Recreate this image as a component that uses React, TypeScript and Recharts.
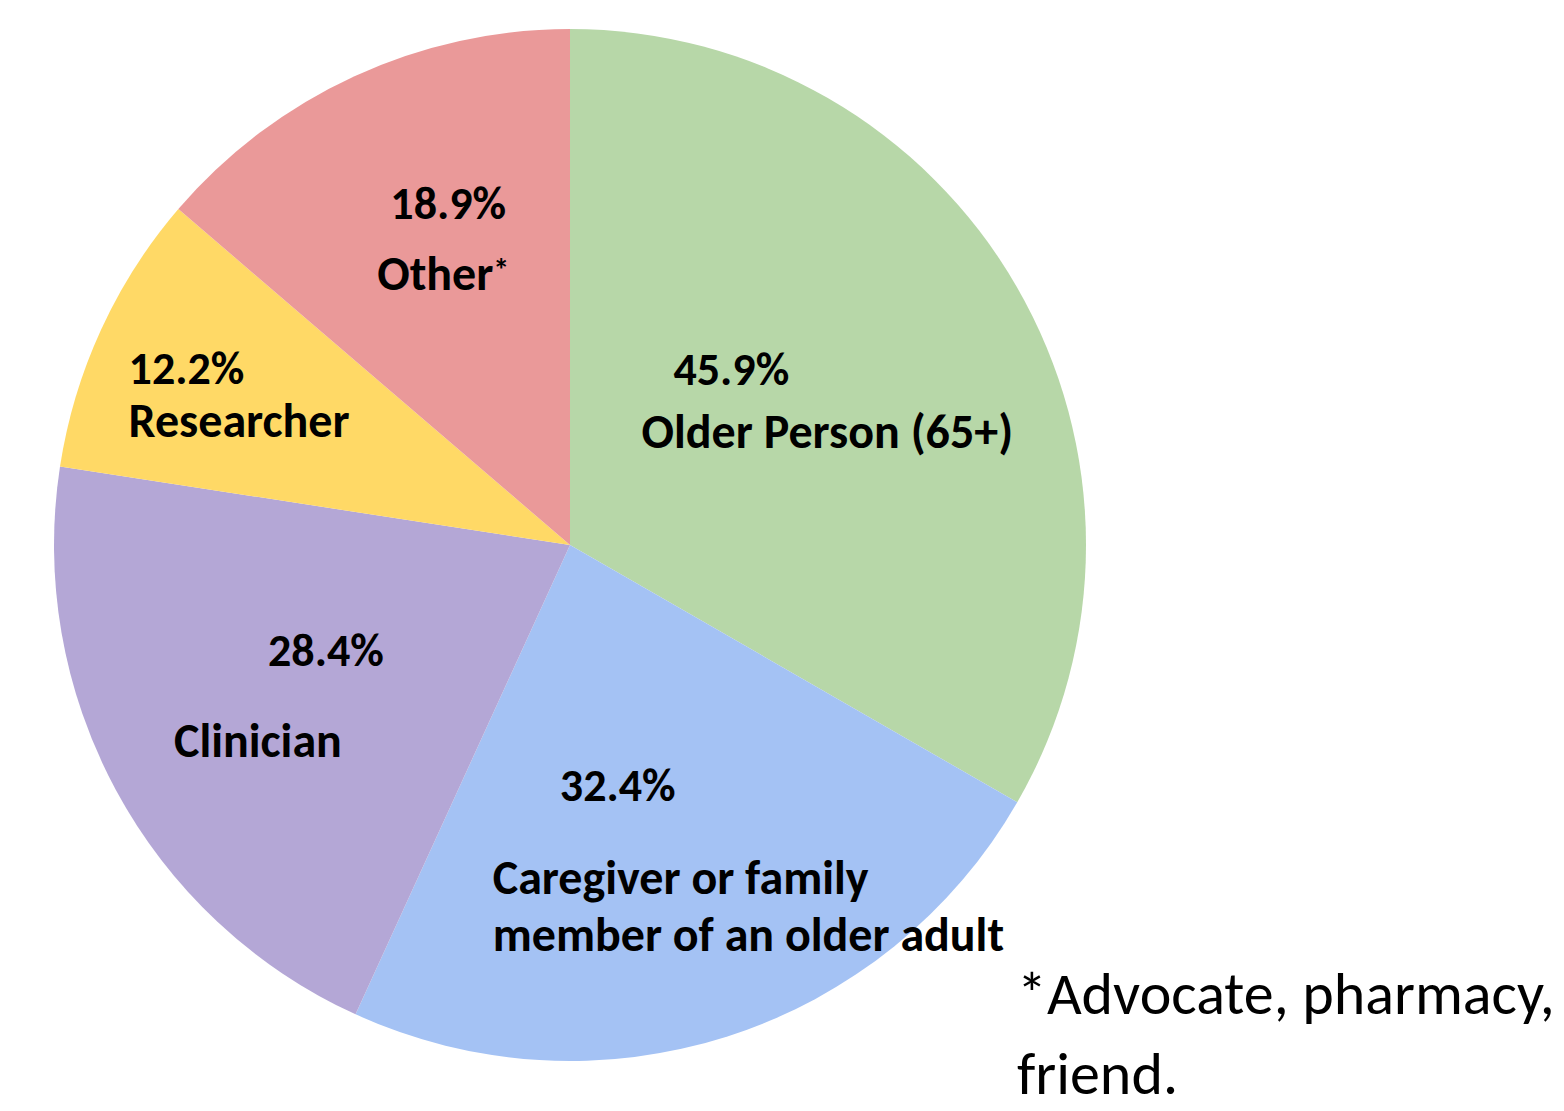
import { PieChart, Pie, Cell } from 'recharts';

// respondent groups (multiple selection, so the shares add up to more than 100)
const categories = ['Older Person (65+)', 'Caregiver', 'Clinician', 'Researcher', 'Other'];
const percentages = [45.9, 32.4, 28.4, 12.2, 18.9];
const nameLines = [
  ['Older Person (65+)'],
  ['Caregiver or family', 'member of an older adult'],
  ['Clinician'],
  ['Researcher'],
  ['Other'],
];
const colors = ['#b7d7a8', '#a4c2f4', '#b4a7d6', '#ffd966', '#ea9999'];
const footnoteLines = ['*Advocate, pharmacy,', 'friend.'];

const FONT = 'Carlito, Calibri, Lato, sans-serif';
const RAD = Math.PI / 180;

// hand placement of the label blocks, relative to a point half way out along each slice
const labelLayout = [
  { pct: [-62, -47], pctAnchor: 'middle', name: [34, 16], nameAnchor: 'middle' },
  { pct: [-31, -6], pctAnchor: 'middle', name: [-156, 87], nameAnchor: 'start' },
  { pct: [-17, -17], pctAnchor: 'middle', name: [-85, 73], nameAnchor: 'middle' },
  { pct: [-207, -69], pctAnchor: 'start', name: [-207, -17], nameAnchor: 'start' },
  { pct: [-14, -108], pctAnchor: 'middle', name: [-19, -37], nameAnchor: 'middle' },
];

const data = categories.map((name, i) => ({ name, value: percentages[i] }));

function renderLabel(props: any) {
  const { cx, cy, midAngle, outerRadius, index, value } = props;
  const r = outerRadius * 0.5;
  const ax = cx + r * Math.cos(-midAngle * RAD);
  const ay = cy + r * Math.sin(-midAngle * RAD);
  const lay = labelLayout[index];
  const lines = nameLines[index];
  return (
    <g>
      <text
        x={ax + lay.pct[0]}
        y={ay + lay.pct[1]}
        textAnchor={lay.pctAnchor as any}
        dominantBaseline="central"
        fontFamily={FONT}
        fontWeight="bold"
        fontSize={46}
        fill="#000"
      >
        {`${Number(value).toFixed(1)}%`}
      </text>
      {lines.map((line, j) => (
        <text
          key={j}
          x={ax + lay.name[0]}
          y={ay + lay.name[1] + j * 57}
          textAnchor={lay.nameAnchor as any}
          dominantBaseline="central"
          fontFamily={FONT}
          fontWeight="bold"
          fontSize={48}
          fill="#000"
        >
          {line}
          {index === 4 && j === 0 ? <tspan fontSize={32} dy={-4}>*</tspan> : null}
        </text>
      ))}
    </g>
  );
}

export default function App() {
  return (
    <div
      style={{
        position: 'absolute',
        left: 0,
        top: 0,
        width: 1564,
        height: 1111,
        overflow: 'hidden',
        background: '#fff',
      }}
    >
      <PieChart width={1564} height={1111} margin={{ top: 0, right: 0, bottom: 0, left: 0 }}>
        <Pie
          data={data}
          dataKey="value"
          cx={570}
          cy={545}
          outerRadius={516}
          startAngle={90}
          endAngle={-270}
          stroke="none"
          labelLine={false}
          label={renderLabel}
          isAnimationActive={false}
        >
          {data.map((d, i) => (
            <Cell key={d.name} fill={colors[i]} />
          ))}
        </Pie>
      </PieChart>
      <svg
        width={1564}
        height={1111}
        style={{ position: 'absolute', left: 0, top: 0, pointerEvents: 'none' }}
      >
        {footnoteLines.map((l, i) => (
          <text key={l} x={1017} y={1014 + i * 80} fontFamily={FONT} fontSize={60} fill="#000">
            {l}
          </text>
        ))}
      </svg>
    </div>
  );
}
